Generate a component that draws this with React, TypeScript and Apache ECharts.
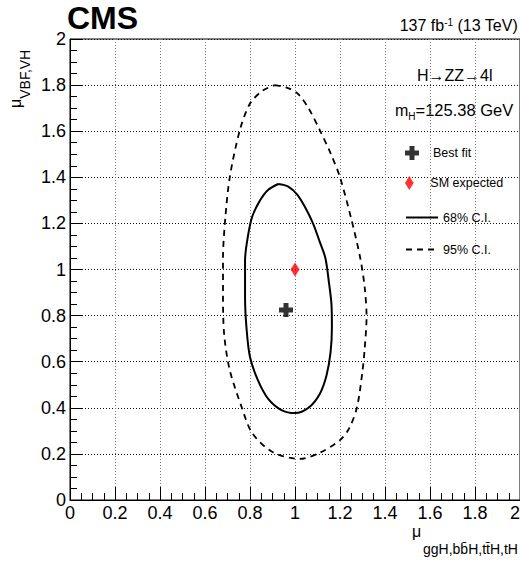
import React, { useEffect, useRef } from 'react';
import * as echarts from 'echarts';

const FAM = '"Liberation Sans", Arial, Helvetica, sans-serif';

// Axis settings
const xRange = [0, 2];
const yRange = [0, 2];
const tickStep = 0.2;

// Points
const bestFit = [[0.96, 0.824]];
const smExpected = [[1.0, 1.0]];

// 68% CL contour (mu_ggH..., mu_VBF,VH)
const ci68 = [
  [0.925, 1.371], [0.97, 1.36], [1.01, 1.325], [1.045, 1.27], [1.08, 1.2], [1.11, 1.12],
  [1.135, 1.05], [1.15, 0.95], [1.162, 0.85], [1.164, 0.75], [1.158, 0.64], [1.14, 0.54],
  [1.11, 0.46], [1.06, 0.4], [1.0, 0.377], [0.94, 0.39], [0.88, 0.44], [0.835, 0.52],
  [0.8, 0.62], [0.785, 0.74], [0.778, 0.88], [0.778, 1.04], [0.79, 1.14], [0.81, 1.23],
  [0.845, 1.3], [0.88, 1.345], [0.925, 1.371],
];

// 95% CL contour
const ci95 = [
  [0.91, 1.8], [0.96, 1.79], [1.01, 1.765], [1.06, 1.7], [1.11, 1.605], [1.16, 1.5],
  [1.2, 1.4], [1.25, 1.22], [1.29, 1.05], [1.31, 0.92], [1.318, 0.795], [1.31, 0.66],
  [1.3, 0.56], [1.275, 0.4], [1.24, 0.31], [1.2, 0.26], [1.11, 0.205], [1.02, 0.178],
  [0.9, 0.208], [0.81, 0.29], [0.764, 0.4], [0.71, 0.564], [0.685, 0.72], [0.68, 0.9],
  [0.68, 1.05], [0.69, 1.22], [0.71, 1.4], [0.755, 1.605], [0.8, 1.72], [0.855, 1.775],
  [0.91, 1.8],
];

const legendNames = ['Best fit', 'SM expected', '68% C.I.', '95% C.I.'];

const CROSS = 'path://M4.5,0H9.5V4.5H14V9.5H9.5V14H4.5V9.5H0V4.5H4.5Z';
const DIAMOND = 'path://M4,0L8,6.5L4,13L0,6.5Z';

type Part = { text: string; size: number; dy?: number; weight?: string };

let ctx: CanvasRenderingContext2D | null = null;
function measure(text: string, size: number, weight = 'normal') {
  if (!ctx) ctx = document.createElement('canvas').getContext('2d');
  ctx!.font = `${weight} ${size}px ${FAM}`;
  return ctx!.measureText(text).width;
}

function runText(parts: Part[], x0: number, baseline: number, alignRight = false) {
  const widths = parts.map((p) => measure(p.text, p.size, p.weight || 'normal'));
  const total = widths.reduce((a, b) => a + b, 0);
  let x = alignRight ? x0 - total : x0;
  return parts.map((p, i) => {
    const el = {
      type: 'text',
      x,
      y: baseline + (p.dy || 0) - 0.3465 * p.size,
      silent: true,
      style: {
        text: p.text,
        fontSize: p.size,
        fontFamily: FAM,
        fontWeight: p.weight || 'normal',
        fill: '#000',
        align: 'left',
        verticalAlign: 'middle',
      },
    };
    x += widths[i];
    return el;
  });
}

export default function App() {
  const ref = useRef<HTMLDivElement>(null);
  useEffect(() => {
    document.body.style.margin = '0';
    document.body.style.overflow = 'hidden';
    document.documentElement.style.overflow = 'hidden';
    const chart = echarts.init(ref.current!, null, { renderer: 'svg' });
    const fmt = (v: number) => String(+v.toFixed(1));
    const axisCommon = (isX: boolean) => ({
      type: 'value',
      min: isX ? xRange[0] : yRange[0],
      max: isX ? xRange[1] : yRange[1],
      interval: tickStep,
      axisLine: { show: true, onZero: false, lineStyle: { color: '#000', width: 1 } },
      axisTick: { show: true, inside: true, length: 13, lineStyle: { color: '#000', width: 1 } },
      minorTick: { show: true, splitNumber: 4, length: 7, lineStyle: { color: '#000', width: 1 } },
      axisLabel: {
        show: true,
        margin: 4,
        fontSize: 18,
        color: '#000',
        fontFamily: FAM,
        formatter: fmt,
        showMinLabel: true,
        showMaxLabel: true,
        hideOverlap: false,
        alignMaxLabel: isX ? 'right' : undefined,
      },
      splitLine: {
        show: true,
        lineStyle: { type: [1, 2], color: isX ? '#777' : '#111', width: 1 },
      },
    });

    const legendY = [153, 183, 218, 250];
    const legends = legendNames.map((name, i) => {
      const lg: any = {
        show: true,
        data: [name],
        left: 405,
        top: legendY[i] - 7,
        orient: 'vertical',
        itemWidth: 32,
        itemHeight: 14,
        padding: 0,
        selectedMode: false,
        symbolKeepAspect: true,
        textStyle: { fontSize: 12.5, color: '#000', fontFamily: FAM },
      };
      if (i >= 2) lg.itemStyle = { opacity: 0 };
      return lg;
    });

    const graphics: any[] = [
      ...runText([{ text: 'CMS', size: 32, weight: 'bold' }], 67, 29),
      ...runText(
        [
          { text: '137 fb', size: 16 },
          { text: '-1', size: 10, dy: -5 },
          { text: ' (13 TeV)', size: 16 },
        ],
        518,
        31,
        true
      ),
      ...runText([{ text: 'H\u2192ZZ\u21924l', size: 16 }], 417, 81),
      ...runText(
        [
          { text: 'm', size: 16 },
          { text: 'H', size: 10, dy: 4 },
          { text: '=125.38 GeV', size: 16.5 },
        ],
        395,
        116
      ),
      ...runText([{ text: '\u03bc', size: 16 }], 412, 537),
      ...runText([{ text: 'ggH,bb\u0304H,tt\u0304H,tH', size: 14 }], 423, 554),
      {
        type: 'group',
        x: 21,
        y: 108,
        rotation: Math.PI / 2,
        children: runText(
          [
            { text: '\u03bc', size: 16 },
            { text: 'VBF,VH', size: 14, dy: 9 },
          ],
          0,
          0
        ),
      },
    ];

    chart.setOption({
      animation: false,
      backgroundColor: '#fff',
      grid: {
        left: 70,
        top: 39,
        width: 450,
        height: 461,
        show: true,
        borderColor: '#000',
        borderWidth: 1,
        backgroundColor: 'transparent',
        containLabel: false,
        outerBoundsMode: 'none',
      },
      xAxis: axisCommon(true),
      yAxis: axisCommon(false),
      legend: legends,
      graphic: graphics,
      series: [
        {
          name: '95% C.I.',
          type: 'line',
          data: ci95,
          symbol: 'none',
          smooth: 0.3,
          lineStyle: { color: '#000', width: 1.8, type: [6, 5] },
          itemStyle: { color: '#000' },
          z: 2,
        },
        {
          name: '68% C.I.',
          type: 'line',
          data: ci68,
          symbol: 'none',
          smooth: 0.3,
          lineStyle: { color: '#000', width: 2, type: 'solid' },
          itemStyle: { color: '#000' },
          z: 3,
        },
        {
          name: 'Best fit',
          type: 'scatter',
          data: bestFit,
          symbol: CROSS,
          symbolSize: 14,
          itemStyle: { color: '#000' },
          z: 5,
        },
        {
          name: 'SM expected',
          type: 'scatter',
          data: smExpected,
          symbol: DIAMOND,
          symbolSize: [9, 14],
          itemStyle: { color: '#ff0000' },
          z: 5,
        },
      ],
    });
    return () => chart.dispose();
  }, []);
  return (
    <div
      ref={ref}
      style={{ width: 520, height: 563, position: 'fixed', left: 0, top: 0 }}
    />
  );
}
